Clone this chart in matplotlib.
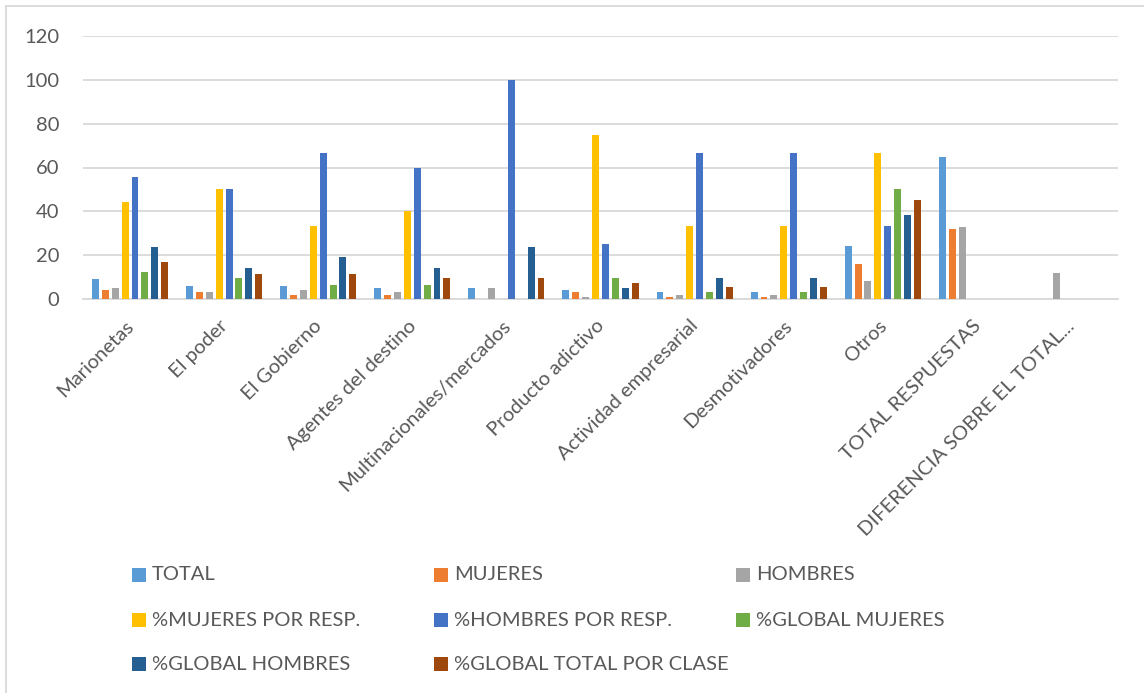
import matplotlib
matplotlib.use("Agg")
import matplotlib.pyplot as plt
import matplotlib.transforms as mtransforms
from matplotlib.patches import Rectangle
import numpy as np

plt.rcParams['font.family'] = ['Lato', 'DejaVu Sans']

categories = ['Marionetas', 'El poder', 'El Gobierno', 'Agentes del destino',
              'Multinacionales/mercados', 'Producto adictivo', 'Actividad empresarial',
              'Desmotivadores', 'Otros', 'TOTAL RESPUESTAS', 'DIFERENCIA SOBRE EL TOTAL...']

series_names = ['TOTAL', 'MUJERES', 'HOMBRES', '%MUJERES POR RESP.', '%HOMBRES POR RESP.',
                '%GLOBAL MUJERES', '%GLOBAL HOMBRES', '%GLOBAL TOTAL POR CLASE']

total = [9, 6, 6, 5, 5, 4, 3, 3, 24, 65, 0]
mujeres = [4, 3, 2, 2, 0, 3, 1, 1, 16, 32, 0]
hombres = [5, 3, 4, 3, 5, 1, 2, 2, 8, 33, 12]
pct_mujeres_resp = [44.4, 50.0, 33.3, 40.0, 0, 75.0, 33.3, 33.3, 66.7, 0, 0]
pct_hombres_resp = [55.6, 50.0, 66.7, 60.0, 100.0, 25.0, 66.7, 66.7, 33.3, 0, 0]
pct_global_mujeres = [12.5, 9.4, 6.3, 6.3, 0, 9.4, 3.1, 3.1, 50.0, 0, 0]
pct_global_hombres = [23.8, 14.3, 19.0, 14.3, 23.8, 4.8, 9.5, 9.5, 38.1, 0, 0]
pct_global_total = [17.0, 11.3, 11.3, 9.4, 9.4, 7.5, 5.7, 5.7, 45.3, 0, 0]

series = [total, mujeres, hombres, pct_mujeres_resp, pct_hombres_resp,
          pct_global_mujeres, pct_global_hombres, pct_global_total]
colors = ['#5B9BD5', '#ED7D31', '#A5A5A5', '#FFC000', '#4472C4',
          '#70AD47', '#255E91', '#9E480E']

W, H = 1144, 693
fig = plt.figure(figsize=(W / 100, H / 100), dpi=100)
ax = fig.add_axes([83 / W, 1 - 299 / H, (1118 - 83) / W, (299 - 36) / H])

text_color = '#595959'
grid_color = '#D9D9D9'
fs = 14.5

x = np.arange(len(categories))
pitch = 0.105
width = 0.074
for i, (vals, col) in enumerate(zip(series, colors)):
    ax.bar(x + (i - 3.5) * pitch, vals, width=width, color=col, zorder=3)

ax.set_xlim(-0.5, len(categories) - 0.5)
ax.set_ylim(0, 120)
ax.set_yticks(np.arange(0, 121, 20))
ax.yaxis.grid(True, color=grid_color, linewidth=1.3, zorder=0)
ax.set_axisbelow(True)
for s in ['top', 'right', 'left']:
    ax.spines[s].set_visible(False)
ax.spines['bottom'].set_color(grid_color)
ax.spines['bottom'].set_linewidth(1.3)
ax.tick_params(axis='y', length=0, pad=17, labelsize=fs, labelcolor=text_color)
ax.tick_params(axis='x', length=0, pad=13, labelsize=fs, labelcolor=text_color)
ax.set_xticks(x)
ax.set_xticklabels(categories, rotation=45, ha='right', rotation_mode='anchor')
shift = mtransforms.ScaledTranslation(-5 / 100, 0, fig.dpi_scale_trans)
for lab in ax.get_xticklabels():
    lab.set_transform(lab.get_transform() + shift)

# legend laid out in three equal-width columns below the chart
leg_x0, leg_dx = 132, 302
leg_rows = [575, 620, 664]
box = 14
for i, (name, col) in enumerate(zip(series_names, colors)):
    r, c = divmod(i, 3)
    px = leg_x0 + c * leg_dx
    py = leg_rows[r]
    fig.add_artist(Rectangle((px / W, 1 - (py + box / 2) / H), box / W, box / H,
                             transform=fig.transFigure, color=col, lw=0))
    fig.text((px + box + 6) / W, 1 - py / H, name, fontsize=fs, color=text_color,
             va='center', ha='left')

# chart frame
fig.add_artist(Rectangle((6 / W, -0.05), 1.1, 1 - 6 / H + 0.05, transform=fig.transFigure,
                         fill=False, edgecolor=grid_color, linewidth=1.3))

fig.savefig('out.png', dpi=100, facecolor='white')
